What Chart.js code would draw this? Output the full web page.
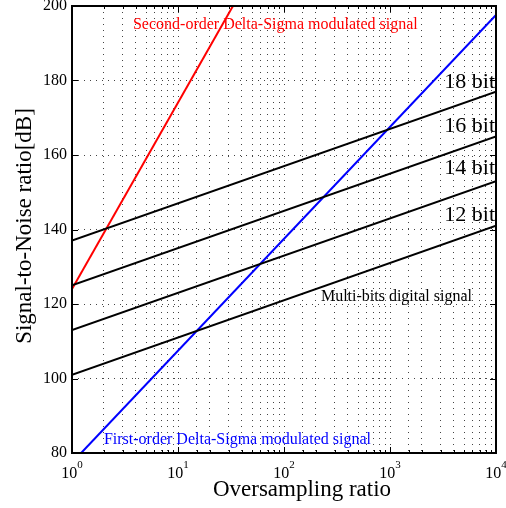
<!DOCTYPE html>
<html>
<head>
<meta charset="utf-8">
<script src="https://cdn.jsdelivr.net/npm/chart.js@4.4.1/dist/chart.umd.min.js"></script>
<style>
  html, body { margin: 0; padding: 0; background: #fff; }
  #wrap { width: 506px; height: 508px; }
</style>
</head>
<body>
<div id="wrap"><canvas id="snr-chart"></canvas></div>
<script>
// Oversampling ratio vs SNR
const FONT = '"Liberation Serif", "Times New Roman", serif';

// Multi-bit quantiser lines (endpoints at OSR = 1 and 10^4)
const bitOsr = [1, 10000];
const snr12bit = [101, 141];
const snr14bit = [113, 153];
const snr16bit = [125, 165];
const snr18bit = [137, 177];

// Delta-sigma lines (visible endpoints)
const firstOrderOsr = [1.22, 10000];
const firstOrderSnr = [80, 197.6];
const secondOrderOsr = [1, 33];
const secondOrderSnr = [124, 200];

const xDecades = [1, 10, 100, 1000, 10000];
const yTicks = [80, 100, 120, 140, 160, 180, 200];

// text labels placed in data coordinates
const bitLabels = ['18 bit', '16 bit', '14 bit', '12 bit'];
const bitLabelY = [179.6, 167.7, 156.5, 143.8];

function toPoints(xs, ys) {
  return xs.map((x, i) => ({ x: x, y: ys[i] }));
}

function lineSet(label, xs, ys, color) {
  return {
    label: label,
    data: toPoints(xs, ys),
    borderColor: color,
    borderWidth: 2,
    pointRadius: 0,
    tension: 0,
    fill: false,
  };
}

const datasets = [
  lineSet('12 bit', bitOsr, snr12bit, '#000'),
  lineSet('14 bit', bitOsr, snr14bit, '#000'),
  lineSet('16 bit', bitOsr, snr16bit, '#000'),
  lineSet('18 bit', bitOsr, snr18bit, '#000'),
  lineSet('First-order', firstOrderOsr, firstOrderSnr, '#0000ff'),
  lineSet('Second-order', secondOrderOsr, secondOrderSnr, '#ff0000'),
];

// frame, inward ticks, superscript tick labels, annotations, axis titles
const decorPlugin = {
  id: 'decor',
  afterDraw(chart) {
    const { ctx, chartArea: a, scales } = chart;
    const xs = scales.x, ys = scales.y;
    ctx.save();

    // inward tick marks
    ctx.strokeStyle = '#000';
    ctx.lineWidth = 1;
    ctx.beginPath();
    xs.ticks.forEach(t => {
      const px = Math.round(xs.getPixelForValue(t.value)) + 0.5;
      const major = xDecades.includes(t.value);
      const len = major ? 6 : 3;
      ctx.moveTo(px, a.bottom); ctx.lineTo(px, a.bottom - len);
      ctx.moveTo(px, a.top); ctx.lineTo(px, a.top + len);
    });
    yTicks.forEach(v => {
      const py = Math.round(ys.getPixelForValue(v)) + 0.5;
      ctx.moveTo(a.left, py); ctx.lineTo(a.left + 6, py);
      ctx.moveTo(a.right, py); ctx.lineTo(a.right - 6, py);
    });
    ctx.stroke();

    // box
    ctx.lineWidth = 2;
    ctx.strokeRect(a.left, a.top, a.right - a.left, a.bottom - a.top);

    // y tick labels
    ctx.fillStyle = '#000';
    ctx.font = '16px ' + FONT;
    ctx.textAlign = 'right';
    ctx.textBaseline = 'middle';
    yTicks.forEach(v => {
      ctx.fillText(String(v), a.left - 5, ys.getPixelForValue(v));
    });

    // x tick labels 10^n
    ctx.textBaseline = 'alphabetic';
    xDecades.forEach((v, n) => {
      const px = xs.getPixelForValue(v);
      ctx.font = '16px ' + FONT;
      const wBase = ctx.measureText('10').width;
      ctx.font = '11px ' + FONT;
      const wExp = ctx.measureText(String(n)).width;
      const left = px - (wBase + wExp) / 2;
      ctx.font = '16px ' + FONT;
      ctx.textAlign = 'left';
      ctx.fillText('10', left, 478);
      ctx.font = '11px ' + FONT;
      ctx.fillText(String(n), left + wBase, 468);
    });

    // bit labels
    ctx.font = '22px ' + FONT;
    ctx.textAlign = 'right';
    ctx.textBaseline = 'middle';
    bitLabels.forEach((txt, i) => {
      ctx.fillText(txt, a.right - 1, ys.getPixelForValue(bitLabelY[i]));
    });

    // series annotations
    ctx.font = '16px ' + FONT;
    ctx.textAlign = 'left';
    ctx.fillStyle = '#ff0000';
    ctx.fillText('Second-order Delta-Sigma modulated signal',
      xs.getPixelForValue(3.76), ys.getPixelForValue(194.9));
    ctx.fillStyle = '#000';
    ctx.fillText('Multi-bits digital signal',
      xs.getPixelForValue(223), ys.getPixelForValue(121.8));
    ctx.fillStyle = '#0000ff';
    ctx.fillText('First-order Delta-Sigma modulated signal',
      xs.getPixelForValue(2.0), ys.getPixelForValue(83.6));

    // axis titles
    ctx.fillStyle = '#000';
    ctx.font = '23px ' + FONT;
    ctx.textAlign = 'center';
    ctx.textBaseline = 'alphabetic';
    ctx.fillText('Oversampling ratio', 302, 496);

    ctx.translate(31, 226);
    ctx.rotate(-Math.PI / 2);
    ctx.fillText('Signal-to-Noise ratio[dB]', 0, 0);

    ctx.restore();
  },
};

const dotted = {
  color: '#444',
  lineWidth: 1,
  drawTicks: false,
};

new Chart(document.getElementById('snr-chart'), {
  type: 'line',
  data: { datasets: datasets },
  options: {
    responsive: true,
    maintainAspectRatio: false,
    animation: false,
    events: [],
    layout: { padding: { left: 0, top: 6, right: 10, bottom: 0 } },
    plugins: {
      legend: { display: false },
      tooltip: { enabled: false },
    },
    scales: {
      x: {
        type: 'logarithmic',
        min: 1,
        max: 10000,
        grid: dotted,
        border: { display: false, dash: [1, 5] },
        ticks: { display: false },
        afterFit: s => { s.height = 55; },
      },
      y: {
        type: 'linear',
        min: 80,
        max: 200,
        grid: dotted,
        border: { display: false, dash: [1, 5] },
        ticks: { display: false, stepSize: 20 },
        afterFit: s => { s.width = 72; },
      },
    },
  },
  plugins: [decorPlugin],
});
</script>
</body>
</html>
